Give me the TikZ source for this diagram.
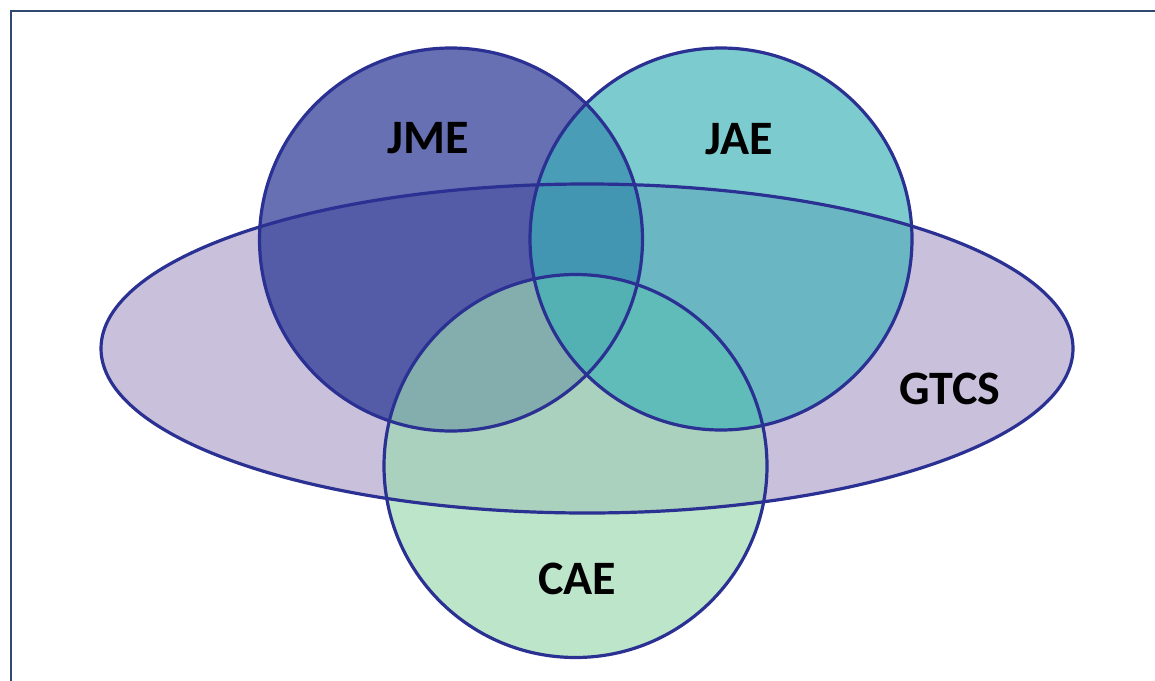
\documentclass[tikz,border=0pt]{standalone}
\usepackage{fontspec}
\setmainfont{Carlito}
\definecolor{frameblue}{RGB}{47,74,112}
\definecolor{edgeblue}{RGB}{43,49,146}
\definecolor{gtcsfill}{RGB}{201,192,219}
\definecolor{jmefill}{RGB}{27,42,142}
\definecolor{jaefill}{RGB}{60,179,184}
\definecolor{caefill}{RGB}{155,216,176}
\begin{document}
\begin{tikzpicture}[x=1pt, y=-1pt, line width=3.2pt,
  set label/.style={font=\bfseries\fontsize{48}{54}\selectfont, inner sep=0pt, anchor=base},
  set fill/.style={fill opacity=0.67}]
\useasboundingbox (0,0) rectangle (1155,680);
\draw [line width=2pt, frameblue] (1160,11) -- (11,11) -- (11,685);
% fills
\fill [gtcsfill] (587,348.5) ellipse [x radius=486pt, y radius=164.5pt];
\fill [set fill, jmefill] (451,239.5) circle [radius=191.5pt];
\fill [set fill, caefill] (575.5,466) circle [radius=191.5pt];
\fill [set fill, jaefill] (721,239) circle [radius=191pt];
% outlines
\draw [edgeblue] (587,348.5) ellipse [x radius=486pt, y radius=164.5pt];
\draw [edgeblue] (451,239.5) circle [radius=191.5pt];
\draw [edgeblue] (721,239) circle [radius=191pt];
\draw [edgeblue] (575.5,466) circle [radius=191.5pt];
% labels
\node [set label] (jme) at (428,153) {JME};
\node [set label] (jae) at (739,154) {JAE};
\node [set label] (cae) at (577,594) {CAE};
\node [set label] (gtcs) at (950,404) {GTCS};
\end{tikzpicture}
\end{document}
